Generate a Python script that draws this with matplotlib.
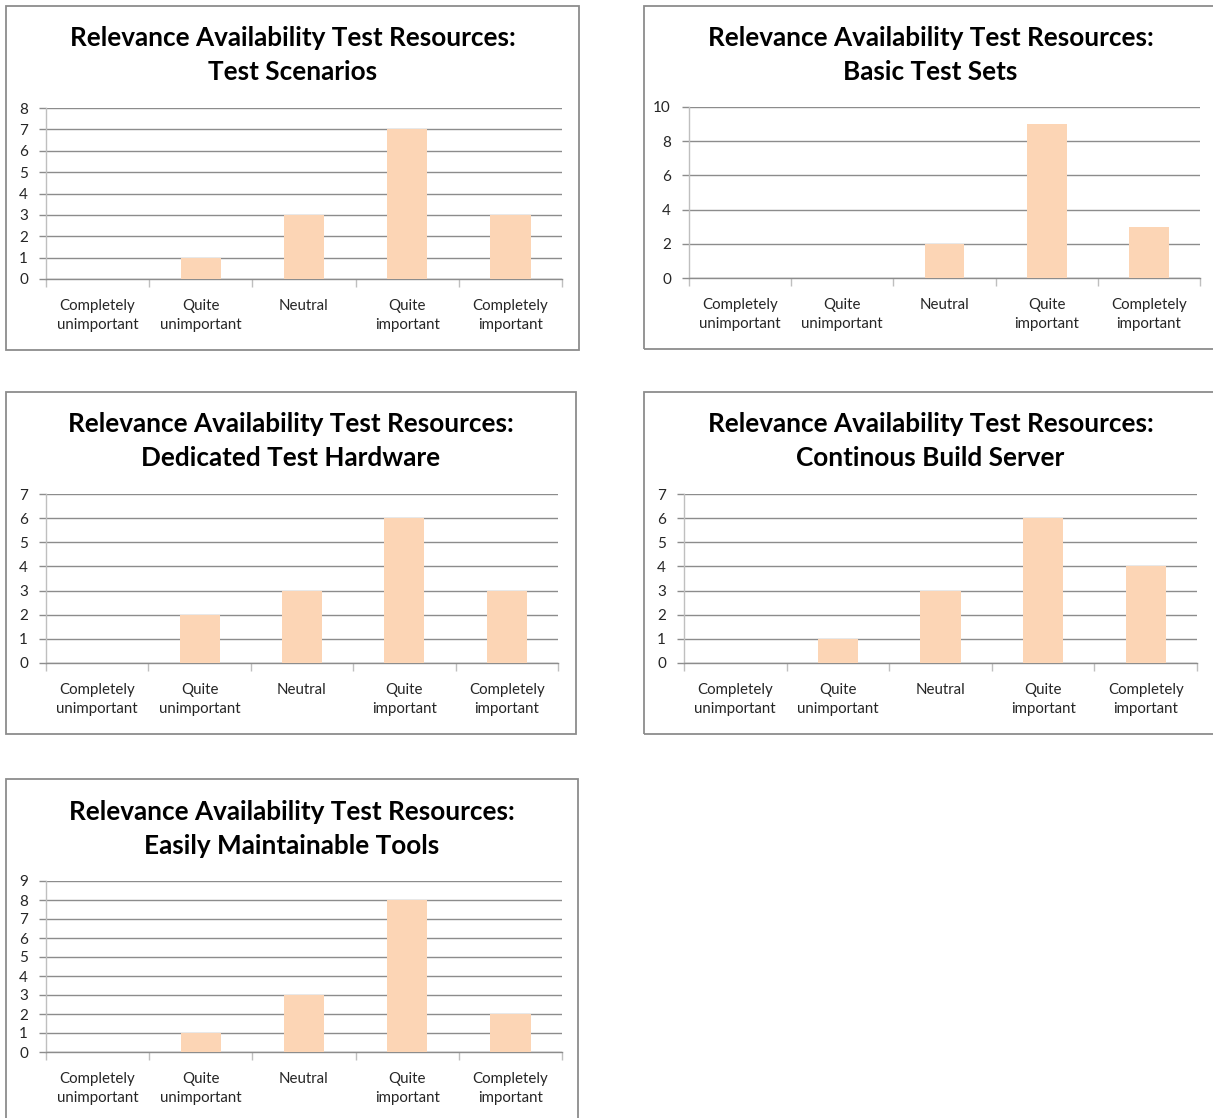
import matplotlib
matplotlib.use("Agg")
import matplotlib.pyplot as plt
from matplotlib.patches import Rectangle
from matplotlib.ticker import MultipleLocator, FixedLocator

plt.rcParams['font.family'] = ['Lato', 'DejaVu Sans']

categories = ["Completely\nunimportant", "Quite\nunimportant", "Neutral",
              "Quite\nimportant", "Completely\nimportant"]

test_scenarios = [0, 1, 3, 7, 3]
basic_test_sets = [0, 0, 2, 9, 3]
dedicated_hardware = [0, 2, 3, 6, 3]
build_server = [0, 1, 3, 6, 4]
maintainable_tools = [0, 1, 3, 8, 2]

subtitles = ["Test Scenarios", "Basic Test Sets", "Dedicated Test Hardware",
             "Continous Build Server", "Easily Maintainable Tools"]
title_prefix = "Relevance Availability Test Resources:"

W, H = 1213, 1118
fig = plt.figure(figsize=(W / 100, H / 100), dpi=100)

BAR = "#FCD5B5"
GRID = "#8C8C8C"
AXIS = "#BFBFBF"
BORDER = "#8C8C8C"

# (values, y max, y step, box [x0, y0, x1, y1], plot [x0, ytop, x1, y0])
panels = [
    (test_scenarios, 8, 1, (6, 6, 579, 350), (46, 108, 562, 279)),
    (basic_test_sets, 10, 2, (644, 6, 1220, 349), (689, 107, 1200, 278)),
    (dedicated_hardware, 7, 1, (6, 392, 576, 734), (46, 494, 558, 663)),
    (build_server, 7, 1, (644, 392, 1220, 734), (684, 494, 1197, 663)),
    (maintainable_tools, 9, 1, (6, 779, 578, 1125), (46, 881, 562, 1052)),
]


def fx(x):
    return x / W


def fy(y):
    return 1 - y / H


for (vals, ymax, ystep, box, plot), sub in zip(panels, subtitles):
    bx0, by0, bx1, by1 = box
    fig.add_artist(Rectangle((fx(bx0), fy(by1)), fx(bx1 - bx0), (by1 - by0) / H,
                             transform=fig.transFigure, fill=False,
                             edgecolor=BORDER, linewidth=1.3))
    cx = (bx0 + bx1) / 2 if bx1 <= W else (bx0 + 1217) / 2
    fig.text(fx(cx), fy(by0 + 32.5), title_prefix, ha="center", va="center",
             fontsize=18.8, fontweight="bold")
    fig.text(fx(cx), fy(by0 + 66.5), sub, ha="center", va="center",
             fontsize=18.8, fontweight="bold")

    px0, pyt, px1, py0 = plot
    ax = fig.add_axes([fx(px0), fy(py0), fx(px1 - px0), (py0 - pyt) / H])
    x = list(range(len(categories)))
    ax.bar(x, vals, width=0.39, color=BAR, zorder=3)
    ax.set_xlim(-0.5, len(categories) - 0.5)
    ax.set_ylim(0, ymax)
    ax.yaxis.set_major_locator(MultipleLocator(ystep))
    ax.grid(axis="y", color=GRID, linewidth=1.0, zorder=0)
    for s in ["top", "right"]:
        ax.spines[s].set_visible(False)
    ax.spines["left"].set_color(AXIS)
    ax.spines["bottom"].set_color(GRID)
    ax.spines["left"].set_linewidth(1.0)
    ax.spines["bottom"].set_linewidth(1.0)
    ax.set_xticks(x)
    ax.set_xticklabels(categories, fontsize=10.8, color="#262626", linespacing=1.45)
    ax.xaxis.set_minor_locator(FixedLocator([i - 0.5 for i in range(len(categories) + 1)]))
    ax.tick_params(axis="x", which="major", length=0, pad=14.5)
    ax.tick_params(axis="x", which="minor", length=6, color=AXIS, width=1.0)
    ax.tick_params(axis="y", length=5, color=GRID, width=1.0, labelsize=11,
                   labelcolor="#262626", pad=8)
    ax.set_facecolor("none")

fig.savefig("out.png", dpi=100, facecolor="white")
